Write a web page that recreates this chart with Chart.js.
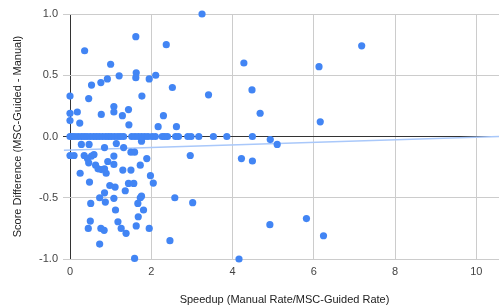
<!DOCTYPE html>
<html>
<head>
<meta charset="utf-8">
<script src="https://cdn.jsdelivr.net/npm/chart.js@4.4.0/dist/chart.umd.min.js"></script>
<style>
  body { margin: 0; background: #fff; }
  #wrap { width: 503px; height: 305px; }
</style>
</head>
<body>
<div id="wrap"><canvas id="scatterChart" width="503" height="305"></canvas></div>
<script>
// speedup (x) and score difference (y)
const speedup = [
  0, 0, 0, 0.18, 0.24, 0.36, 0.46, 0.53, 0.76, 0.77, 0.92, 1.0, 1.08, 1.08, 1.21, 1.29, 1.44, 1.45,
  1.62, 1.63, 1.62, 1.77, 1.95, 2.11, 2.17, 2.30, 2.37, 3.25, 2.52, 3.41, 2.62, 4.28, 4.48, 4.68,
  6.13, 6.16, 7.18,
  0, 0.05, 0.12, 0.2, 0.28, 0.35, 0.42, 0.5, 0.58, 0.65, 0.72, 0.8, 0.88, 0.95, 1.02, 1.1, 1.18,
  1.25, 1.32, 1.52, 1.6, 1.68, 1.76, 1.84, 1.92, 2.02, 2.1, 2.27, 2.33, 2.4, 2.6, 2.67, 2.9, 2.98,
  3.17, 3.53, 3.86, 4.49,
  4.93, 5.10, 0.28, 0.47, 0.85, 1.14, 1.32, 1.76,
  2.96, 4.22, 4.49, 1.98, 2.05, 2.58, 3.02, 1.95, 2.46, 4.16, 4.92, 5.82, 6.24,
  0, 0.1, 0.35, 0.43, 0.53, 0.59, 0.46, 0.25, 0.63, 0.69, 0.77, 0.85, 0.89, 0.93, 1.08, 1.08,
  1.30, 1.50, 1.50, 1.59, 1.73, 1.89,
  0.48, 0.98, 1.11, 1.44, 1.57, 1.36, 0.73, 0.85, 0.87, 1.08, 1.12, 0.51, 1.73, 1.76, 1.67, 1.81,
  1.68, 0.50, 1.18, 0.45, 0.76, 0.84, 1.26, 1.38, 1.63, 0.73, 1.59
];
const scoreDiff = [
  0.33, 0.19, 0.13, 0.20, 0.11, 0.70, 0.31, 0.42, 0.44, 0.18, 0.47, 0.59, 0.245, 0.20, 0.495, 0.17, 0.22, 0.095,
  0.815, 0.52, 0.48, 0.33, 0.47, 0.50, 0.08, 0.17, 0.75, 1.0, 0.40, 0.34, 0.08, 0.60, 0.38, 0.19,
  0.57, 0.12, 0.74,
  0, 0, 0, 0, 0, 0, 0, 0, 0, 0, 0, 0, 0, 0, 0, 0, 0,
  0, 0, 0, 0, 0, 0, 0, 0, 0, 0, 0, 0, 0, 0, 0, 0, 0,
  0, 0, 0, 0,
  -0.025, -0.065, -0.065, -0.065, -0.09, -0.057, -0.09, -0.038,
  -0.155, -0.18, -0.20, -0.32, -0.38, -0.50, -0.54, -0.75, -0.85, -1.0, -0.72, -0.67, -0.81,
  -0.155, -0.155, -0.155, -0.18, -0.16, -0.147, -0.215, -0.30, -0.234, -0.264, -0.27, -0.264, -0.30, -0.204, -0.16, -0.228,
  -0.274, -0.274, -0.128, -0.128, -0.234, -0.18,
  -0.372, -0.40, -0.413, -0.383, -0.383, -0.443, -0.50, -0.46, -0.535, -0.505, -0.60, -0.546, -0.50, -0.487, -0.546, -0.60,
  -0.655, -0.69, -0.696, -0.75, -0.75, -0.766, -0.75, -0.79, -0.73, -0.878, -0.995
];

// trendline ends
const trendX = [-0.15, 10.56];
const trendY = [-0.112, 0.001];

const xTicks = [0, 2, 4, 6, 8, 10];
const yTicks = [-1, -0.5, 0, 0.5, 1];

const points = speedup.map((x, i) => ({ x: x, y: scoreDiff[i] }));
const trend = trendX.map((x, i) => ({ x: x, y: trendY[i] }));

const gridColor = (ctx) => (ctx.tick && ctx.tick.value === 0 ? "#333333" : "#cccccc");

new Chart(document.getElementById("scatterChart"), {
  type: "scatter",
  data: {
    datasets: [
      {
        data: points,
        backgroundColor: "#4285f4",
        borderWidth: 0,
        pointRadius: 3.6,
        clip: false
      },
      {
        type: "line",
        data: trend,
        borderColor: "#a9c8fa",
        borderWidth: 1.5,
        pointRadius: 0,
        fill: false,
        clip: false
      }
    ]
  },
  options: {
    responsive: false,
    animation: false,
    layout: { padding: { top: 14, right: 0, left: 0, bottom: 0 } },
    plugins: { legend: { display: false }, tooltip: { enabled: false } },
    scales: {
      x: {
        type: "linear",
        min: 0,
        max: 10.56,
        afterBuildTicks: (s) => { s.ticks = xTicks.map(v => ({ value: v })); },
        afterFit: (s) => { s.height = 46; },
        border: { display: false },
        grid: { color: gridColor, drawTicks: false, lineWidth: 1 },
        ticks: { padding: 6, color: "#444", font: { family: "Liberation Sans, Arial", size: 11 } },
        title: {
          display: true,
          text: "Speedup (Manual Rate/MSC-Guided Rate)",
          color: "#222",
          font: { family: "Liberation Sans, Arial", size: 11, lineHeight: 1 },
          padding: { top: 0, bottom: 0 }
        }
      },
      y: {
        min: -1,
        max: 1,
        afterBuildTicks: (s) => { s.ticks = yTicks.map(v => ({ value: v })); },
        afterFit: (s) => { s.width = 70; },
        border: { display: false },
        grid: { color: gridColor, drawTicks: true, tickLength: 7, lineWidth: 1 },
        ticks: {
          padding: 5,
          color: "#444",
          font: { family: "Liberation Sans, Arial", size: 11 },
          callback: (v) => v.toFixed(1)
        },
        title: {
          display: true,
          text: "Score Difference (MSC-Guided - Manual)",
          color: "#222",
          font: { family: "Liberation Sans, Arial", size: 11, lineHeight: 1 },
          padding: { top: 12, bottom: 0 }
        }
      }
    }
  }
});
</script>
</body>
</html>
